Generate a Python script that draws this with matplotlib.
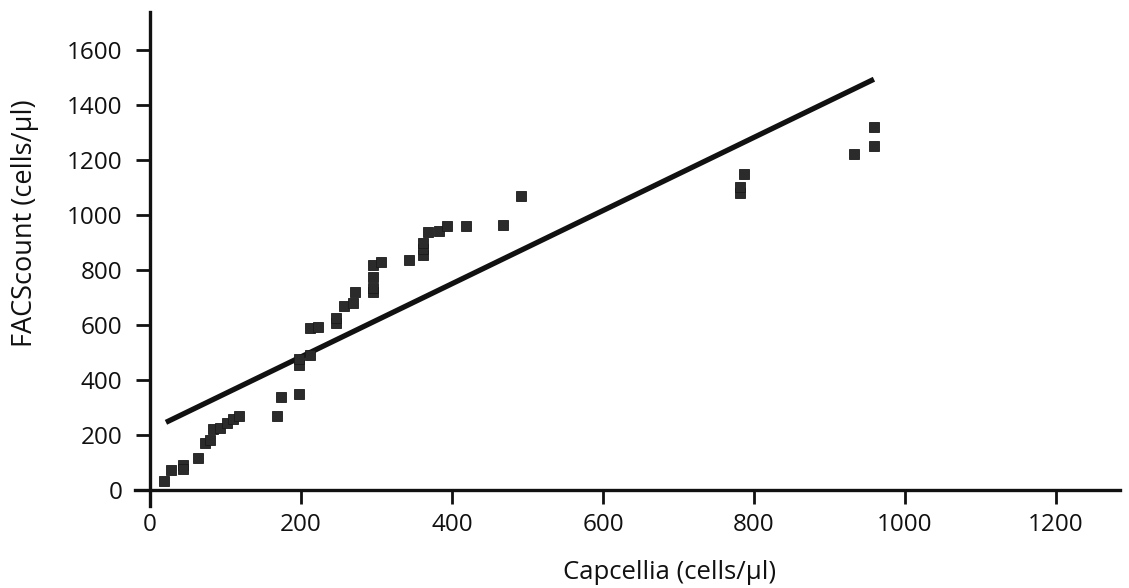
import matplotlib
matplotlib.use("Agg")
import matplotlib.pyplot as plt
import numpy as np

plt.rcParams['font.family'] = ['Open Sans', 'DejaVu Sans']

# Data
capcellia = [19, 28, 44, 44, 63, 73, 80, 83, 93, 102, 110, 118,
             168, 173, 197, 197, 197, 212, 212, 222, 246, 246,
             257, 269, 272, 295, 295, 295, 295, 306, 343,
             362, 362, 362, 368, 383, 394, 418, 467, 492,
             782, 782, 787, 933, 959, 959]
facscount = [31, 71, 90, 75, 116, 168, 180, 219, 225, 243, 256, 268,
             269, 338, 350, 455, 475, 490, 589, 593, 607, 625,
             670, 678, 721, 720, 735, 773, 818, 828, 836,
             854, 876, 898, 939, 943, 960, 960, 964, 1070,
             1082, 1102, 1148, 1224, 1250, 1320]

fit_x = [21, 959]
fit_y = [245, 1495]

x_ticks = [0, 200, 400, 600, 800, 1000, 1200]
y_ticks = [0, 200, 400, 600, 800, 1000, 1200, 1400, 1600]

fig = plt.figure(figsize=(11.29, 5.88), dpi=100)
ax = fig.add_axes([135 / 1129, (588 - 505.5) / 588, 985 / 1129, 493.5 / 588])

ax.plot(fit_x, fit_y, color='#111111', linewidth=3.8, solid_capstyle='butt', zorder=2)
ax.plot(capcellia, facscount, linestyle='none', marker='s', markersize=7.5,
        markerfacecolor='#2b2b2b', markeredgecolor='#1a1a1a', markeredgewidth=0.6, zorder=3)

ax.set_xlim(-20, 1285)
ax.set_ylim(-58, 1740)

ax.spines['left'].set_position(('data', 0))
ax.spines['bottom'].set_position(('data', 0))
ax.spines['right'].set_visible(False)
ax.spines['top'].set_visible(False)
for s in ('left', 'bottom'):
    ax.spines[s].set_linewidth(2.4)
    ax.spines[s].set_color('#111111')
ax.spines['left'].set_bounds(-58, 1740)
ax.spines['bottom'].set_bounds(-20, 1285)

ax.set_xticks(x_ticks)
ax.set_yticks(y_ticks)
ax.tick_params(axis='x', direction='out', length=10, width=2.0, pad=7, labelsize=17.5, colors='#111111')
ax.tick_params(axis='y', direction='out', length=10, width=2.0, pad=10, labelsize=17.5, colors='#111111')

fig.text(670 / 1129, 1 - 579 / 588, 'Capcellia (cells/μl)', ha='center', va='baseline',
         fontsize=18.5, color='#111111')
fig.text(25 / 1129, 1 - 223 / 588, 'FACScount (cells/μl)', ha='center', va='center',
         rotation=90, fontsize=19.5, color='#111111')

fig.savefig('out.png', dpi=100, facecolor='white')
